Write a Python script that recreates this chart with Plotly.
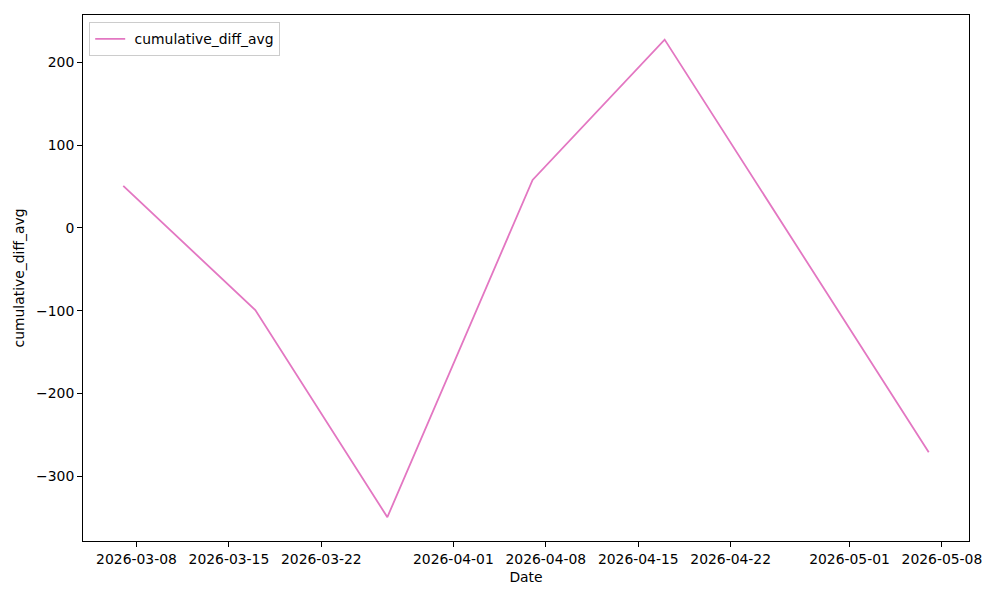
import plotly.graph_objects as go

dates = ['2026-03-07', '2026-03-17', '2026-03-27', '2026-04-07', '2026-04-17', '2026-05-07']
cumulative_diff_avg = [50.7, -99.2, -349.4, 58.0, 227.5, -271.0]

x_ticks = ['2026-03-08', '2026-03-15', '2026-03-22', '2026-04-01', '2026-04-08',
           '2026-04-15', '2026-04-22', '2026-05-01', '2026-05-08']
y_ticks = [-300, -200, -100, 0, 100, 200]

font = dict(family='DejaVu Sans', size=13.9, color='black')

fig = go.Figure()
fig.add_trace(go.Scatter(x=dates, y=cumulative_diff_avg, mode='lines', name=' cumulative_diff_avg',
                         line=dict(color='#e377c2', width=1.8)))

axis_style = dict(showline=True, linecolor='black', linewidth=1, mirror=True, showgrid=False,
                  zeroline=False, ticks='outside', ticklen=5, tickcolor='black', tickfont=font,
                  automargin=False)

fig.update_xaxes(title=dict(text='Date', font=font, standoff=6), range=['2026-03-03 22:48', '2026-05-10 01:12'],
                 tickvals=x_ticks, ticktext=x_ticks, **axis_style)
fig.update_yaxes(title=dict(text='cumulative_diff_avg', font=font, standoff=8), range=[-378.2, 257.2],
                 tickvals=y_ticks, ticktext=[str(v).replace('-', '\u2212') for v in y_ticks], **axis_style)

# the page body adds 8px around the figure, so margins are offset by that
fig.update_layout(width=1000, height=600, margin=dict(l=75, r=39, t=7, b=67),
                  plot_bgcolor='white', paper_bgcolor='white', font=font,
                  showlegend=True,
                  legend=dict(x=0.007, y=0.986, xanchor='left', yanchor='top', bgcolor='white',
                              bordercolor='#cccccc', borderwidth=1, font=font))

fig.write_html("out.html")
